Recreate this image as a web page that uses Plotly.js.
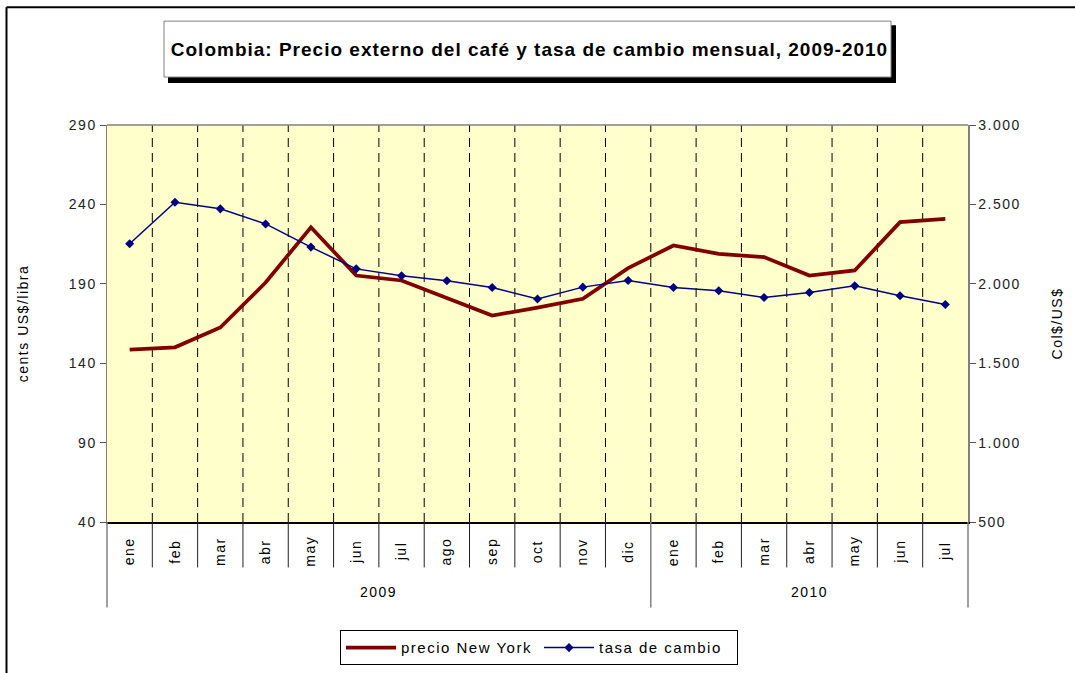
<!DOCTYPE html>
<html>
<head>
<meta charset="utf-8">
<script src="https://cdn.plot.ly/plotly-3.0.1.min.js"></script>
<style>
html,body{margin:0;padding:0;background:#fff;}
#chart{width:1075px;height:673px;}
#chart text{letter-spacing:1.5px;}
#chart .gtitle{letter-spacing:1px;}
</style>
</head>
<body>
<div id="chart"></div>
<script>
// ---- data ----
var months = ["ene","feb","mar","abr","may","jun","jul","ago","sep","oct","nov","dic",
              "ene","feb","mar","abr","may","jun","jul"];
var years = ["2009","2010"];
var yearCounts = [12, 7];
var precioNY = [148.5,150,162.5,190.8,225.6,195.2,192.1,181,170,175,180.6,199.9,
                214.1,208.9,206.8,195.2,198.4,228.8,230.9];
var tasaCambio = [2252,2514,2472,2377,2231,2094,2050,2019,1977,1904,1979,2021,
                  1977,1956,1914,1945,1987,1925,1870];
var leftTicks = [40,90,140,190,240,290];
var rightTicks = [500,1000,1500,2000,2500,3000];

// ---- geometry helpers (pixels -> paper) ----
var W = 1075, H = 673, L = 107, R = 968, T = 125, B = 522.5;
function px(x){ return (x - L) / (R - L); }
function py(y){ return (B - y) / (B - T); }

var idx = months.map(function(_, i){ return i; });
var FONT = "Liberation Sans, Arial, sans-serif";

var traces = [
  {x: idx, y: precioNY, name: "precio New York", type: "scatter", mode: "lines",
   line: {color: "#800000", width: 3.75}, yaxis: "y"},
  {x: idx, y: tasaCambio, name: "tasa de cambio", type: "scatter", mode: "lines+markers",
   line: {color: "#000080", width: 1.5}, marker: {symbol: "diamond", size: 7, color: "#000080"},
   yaxis: "y2"}
];

var shapes = [];
var annotations = [];

// outer frame
shapes.push({type: "line", xref: "paper", yref: "paper", x0: px(6.5), x1: px(1200), y0: py(7), y1: py(7), line: {color: "#000", width: 2}});
shapes.push({type: "line", xref: "paper", yref: "paper", x0: px(6.5), x1: px(6.5), y0: py(7), y1: py(800), line: {color: "#000", width: 2}});

// title box with shadow
shapes.push({type: "rect", xref: "paper", yref: "paper", x0: px(168), x1: px(896), y0: py(83), y1: py(25), fillcolor: "#000", line: {width: 0}});
shapes.push({type: "rect", xref: "paper", yref: "paper", x0: px(164), x1: px(891), y0: py(77), y1: py(21), fillcolor: "#fff", line: {color: "#808080", width: 1}});

// plot border (top)
shapes.push({type: "line", xref: "paper", yref: "paper", x0: 0, x1: 1, y0: 1, y1: 1, line: {color: "#808080", width: 1.5}});

// dashed vertical gridlines between months
for (var i = 0; i < months.length - 1; i++) {
  shapes.push({type: "line", xref: "x", yref: "paper", x0: i + 0.5, x1: i + 0.5, y0: 0, y1: 1,
               line: {color: "#000", width: 1, dash: "9px,6px"}, layer: "below"});
}

// month separators below axis
var yMonthBottom = py(568), yYearBottom = py(608);
var yearBoundaries = [];
var acc = 0;
for (var k = 0; k < yearCounts.length - 1; k++) { acc += yearCounts[k]; yearBoundaries.push(acc - 0.5); }
for (var j = 0; j < months.length - 1; j++) {
  var xb = j + 0.5;
  var isYear = yearBoundaries.indexOf(xb) >= 0;
  shapes.push({type: "line", xref: "x", yref: "paper", x0: xb, x1: xb, y0: 0, y1: isYear ? yYearBottom : yMonthBottom,
               line: {color: isYear ? "#808080" : "#222", width: isYear ? 1.5 : 1}});
}
shapes.push({type: "line", xref: "paper", yref: "paper", x0: 0, x1: 0, y0: 0, y1: yYearBottom, line: {color: "#808080", width: 1.5}});
shapes.push({type: "line", xref: "paper", yref: "paper", x0: 1, x1: 1, y0: 0, y1: yYearBottom, line: {color: "#808080", width: 1.5}});

// month labels
months.forEach(function(m, i){
  annotations.push({x: i, xref: "x", y: py(552), yref: "paper", text: m, textangle: -90, showarrow: false,
                    font: {family: FONT, size: 14, color: "#000"}, xanchor: "center", yanchor: "middle"});
});
// year labels
acc = 0;
years.forEach(function(yv, k){
  var start = acc - 0.5, end = acc + yearCounts[k] - 0.5;
  annotations.push({x: (start + end) / 2, xref: "x", y: py(593), yref: "paper", text: yv, showarrow: false,
                    font: {family: FONT, size: 14, color: "#000"}, xanchor: "center", yanchor: "middle"});
  acc += yearCounts[k];
});

var layout = {
  width: W, height: H,
  margin: {l: L, r: W - R, t: T, b: H - B, pad: 0, autoexpand: false},
  paper_bgcolor: "#fff",
  plot_bgcolor: "#FFFFCC",
  separators: ",.",
  font: {family: FONT, size: 14, color: "#000"},
  title: {text: "Colombia: Precio externo del café y tasa de cambio mensual, 2009-2010",
          font: {family: FONT, size: 19, color: "#000", weight: "bold"},
          x: 527.5 / W, xanchor: "center", xref: "paper", y: 1 - 49 / H, yanchor: "middle", yref: "container"},
  xaxis: {range: [-0.5, months.length - 0.5], showticklabels: false, showgrid: false, zeroline: false,
          showline: true, linecolor: "#000", linewidth: 1.5, ticks: "", fixedrange: true},
  yaxis: {range: [40, 290], tickvals: leftTicks, showgrid: false, zeroline: false,
          showline: true, linecolor: "#808080", linewidth: 1.5, ticks: "outside", ticklen: 6, tickcolor: "#555",
          tickfont: {family: FONT, size: 14, color: "#222"},
          title: {text: "cents US$/libra", font: {family: FONT, size: 14, color: "#000"}, standoff: 41}},
  yaxis2: {range: [500, 3000], tickvals: rightTicks, tickformat: ",.0f", overlaying: "y", side: "right",
           showgrid: false, zeroline: false, showline: true, linecolor: "#808080", linewidth: 1.5,
           ticks: "outside", ticklen: 6, tickcolor: "#555",
           tickfont: {family: FONT, size: 14, color: "#222"},
           title: {text: "Col$/US$", font: {family: FONT, size: 14, color: "#000"}, standoff: 39}},
  showlegend: true,
  legend: {orientation: "h", x: px(539), xanchor: "center", y: py(631), yanchor: "top",
           bordercolor: "#000", borderwidth: 1, bgcolor: "#fff",
           font: {family: FONT, size: 15, color: "#000"}, itemwidth: 50, traceorder: "normal",
           entrywidth: 133, entrywidthmode: "pixels"},
  shapes: shapes,
  annotations: annotations
};

Plotly.newPlot("chart", traces, layout, {displayModeBar: false, staticPlot: true});
</script>
</body>
</html>
